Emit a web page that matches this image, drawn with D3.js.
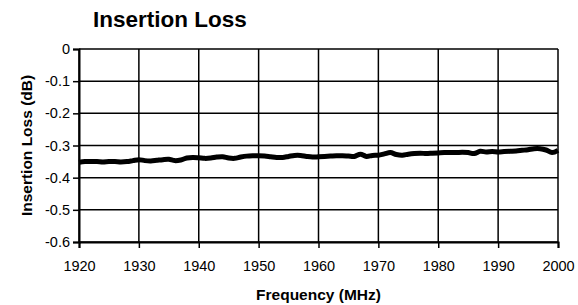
<!DOCTYPE html>
<html>
<head>
<meta charset="utf-8">
<script src="https://cdn.jsdelivr.net/npm/d3@7"></script>
<style>
  body { margin: 0; background: #fff; }
  text { font-family: "Liberation Sans", Arial, sans-serif; fill: #000; }
</style>
</head>
<body>
<div id="plot"></div>
<script>
// frequency (MHz) and insertion loss (dB)
const freq = d3.range(1920, 2001);
const loss = [
  -0.352, -0.350, -0.350, -0.350, -0.351, -0.350, -0.350, -0.351, -0.350, -0.347,
  -0.344, -0.347, -0.348, -0.346, -0.344, -0.343, -0.347, -0.345, -0.339, -0.337,
  -0.338, -0.340, -0.339, -0.336, -0.335, -0.339, -0.340, -0.336, -0.333, -0.332,
  -0.332, -0.333, -0.335, -0.337, -0.337, -0.334, -0.331, -0.331, -0.334, -0.336,
  -0.335, -0.334, -0.333, -0.332, -0.332, -0.333, -0.334, -0.327, -0.334, -0.331,
  -0.330, -0.326, -0.322, -0.328, -0.330, -0.327, -0.325, -0.324, -0.325, -0.324,
  -0.323, -0.322, -0.322, -0.322, -0.321, -0.322, -0.325, -0.318, -0.320, -0.319,
  -0.320, -0.319, -0.318, -0.317, -0.315, -0.313, -0.310, -0.310, -0.314, -0.322,
  -0.315
];
const xTicks = [1920, 1930, 1940, 1950, 1960, 1970, 1980, 1990, 2000];
const yTicks = [0, -0.1, -0.2, -0.3, -0.4, -0.5, -0.6];
const yTickLabels = ["0", "-0.1", "-0.2", "-0.3", "-0.4", "-0.5", "-0.6"];

const svg_width = 578, svg_height = 305;
const plot_left = 79, plot_right = 558, plot_top = 49, plot_bottom = 242;

const svg = d3.select("#plot").append("svg")
  .attr("width", svg_width)
  .attr("height", svg_height);

const x = d3.scaleLinear().domain([1920, 2000]).range([plot_left, plot_right]);
const y = d3.scaleLinear().domain([-0.6, 0]).range([plot_bottom, plot_top]);

// grid
svg.append("g")
  .selectAll("line")
  .data(xTicks)
  .enter().append("line")
  .attr("x1", d => x(d)).attr("x2", d => x(d))
  .attr("y1", plot_top).attr("y2", plot_bottom)
  .attr("stroke", "#000").attr("stroke-width", 1.5);

svg.append("g")
  .selectAll("line")
  .data(yTicks)
  .enter().append("line")
  .attr("x1", plot_left).attr("x2", plot_right)
  .attr("y1", d => y(d)).attr("y2", d => y(d))
  .attr("stroke", "#000").attr("stroke-width", 1.5);

// axes
const xAxis = svg.append("g")
  .attr("transform", "translate(0," + plot_bottom + ")")
  .call(d3.axisBottom(x).tickValues(xTicks).tickFormat(d3.format("d")).tickSize(6).tickPadding(13));

const yAxis = svg.append("g")
  .attr("transform", "translate(" + plot_left + ",0)")
  .call(d3.axisLeft(y).tickValues(yTicks).tickFormat((d, i) => yTickLabels[i]).tickSize(6).tickPadding(3));

[xAxis, yAxis].forEach(g => {
  g.select(".domain").attr("stroke", "#000").attr("stroke-width", 2);
  g.selectAll(".tick line").attr("stroke", "#000").attr("stroke-width", 1.5);
  g.selectAll(".tick text")
    .attr("fill", "#000")
    .style("font-family", "'Liberation Sans', Arial, sans-serif")
    .style("font-size", "14.5px");
});

// data line
const line = d3.line()
  .x((d, i) => x(freq[i]))
  .y(d => y(d))
  .curve(d3.curveCatmullRom);

svg.append("path")
  .datum(loss)
  .attr("fill", "none")
  .attr("stroke", "#000")
  .attr("stroke-width", 5)
  .attr("stroke-linejoin", "round")
  .attr("d", line);

// titles
svg.append("text")
  .attr("x", 93)
  .attr("y", 27)
  .attr("font-weight", 700)
  .style("font-size", "22.5px")
  .text("Insertion Loss");

svg.append("text")
  .attr("x", (plot_left + plot_right) / 2)
  .attr("y", 300)
  .attr("text-anchor", "middle")
  .attr("font-weight", 700)
  .style("font-size", "15.5px")
  .text("Frequency (MHz)");

svg.append("text")
  .attr("transform", "rotate(-90)")
  .attr("x", -(plot_top + plot_bottom) / 2)
  .attr("y", 32)
  .attr("text-anchor", "middle")
  .attr("font-weight", 700)
  .style("font-size", "15.5px")
  .text("Insertion Loss (dB)");
</script>
</body>
</html>
